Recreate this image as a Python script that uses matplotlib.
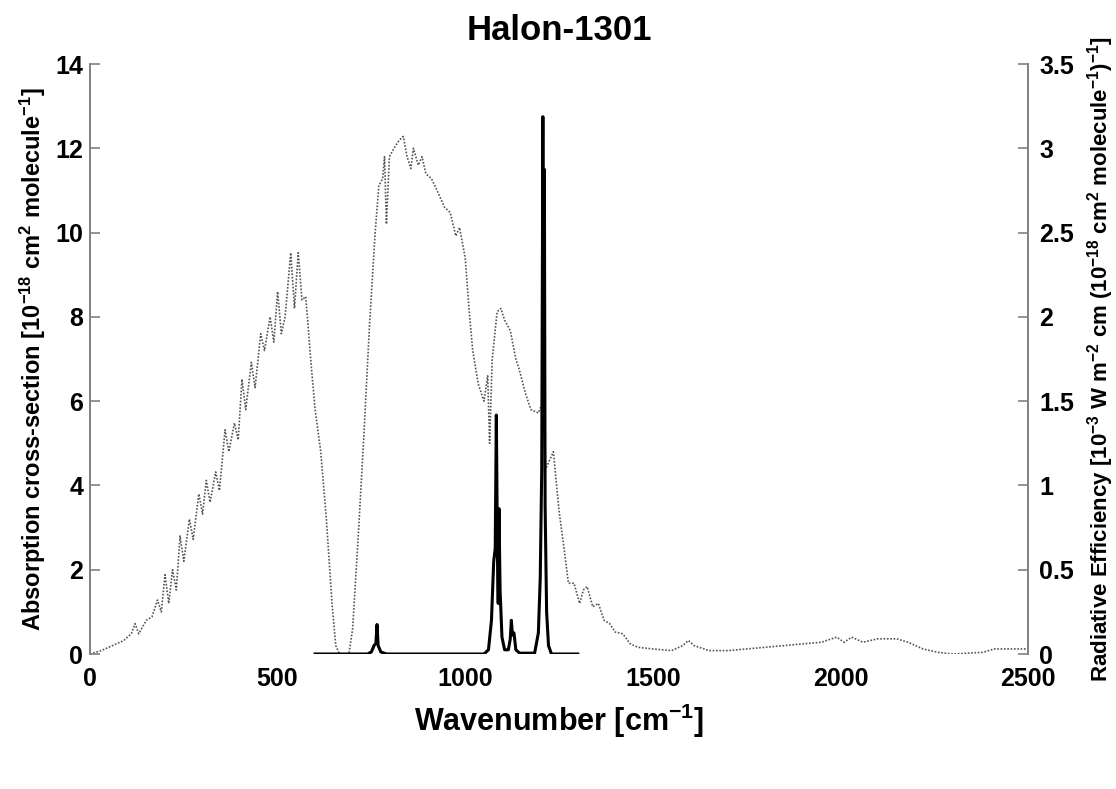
import matplotlib
matplotlib.use("Agg")
import matplotlib.pyplot as plt

plt.rcParams['font.family'] = ['Liberation Sans', 'DejaVu Sans']
plt.rcParams['font.weight'] = 'bold'
plt.rcParams['mathtext.fontset'] = 'custom'
plt.rcParams['mathtext.rm'] = 'Liberation Sans:bold'
plt.rcParams['mathtext.it'] = 'Liberation Sans:bold'
plt.rcParams['mathtext.bf'] = 'Liberation Sans:bold'
plt.rcParams['mathtext.default'] = 'rm'

# Absorption cross-section (left axis, 1e-18 cm^2 molecule^-1)
wn_abs = [600, 740, 750, 757, 762, 765, 768, 775, 790, 1050, 1062, 1070, 1076, 1080,
          1083, 1086, 1088, 1090, 1093, 1098, 1105, 1115, 1120, 1123, 1126, 1130, 1135,
          1145, 1185, 1195, 1200, 1204, 1207, 1209, 1211, 1213, 1217, 1222, 1230, 1300]
abs_xs = [0.0, 0.0, 0.05, 0.2, 0.25, 0.7, 0.2, 0.05, 0.0, 0.0, 0.1, 0.8, 2.2, 2.5,
          5.67, 2.3, 1.2, 3.45, 1.5, 0.4, 0.1, 0.1, 0.35, 0.8, 0.45, 0.5, 0.1,
          0.02, 0.02, 0.5, 1.8, 4.4, 12.75, 6.0, 11.5, 3.5, 1.0, 0.2, 0.0, 0.0]

# Radiative efficiency (right axis)
wn_re = [0, 30, 60, 90, 110, 120, 130, 150, 165, 180, 190, 200, 210, 220, 230, 240, 250,
         265, 275, 290, 300, 310, 320, 335, 345, 360, 370, 385, 395, 405, 415, 430, 440,
         455, 465, 480, 490, 500, 510, 520, 535, 545, 555, 565, 575, 590, 600, 615, 630,
         645, 655, 665, 690, 700, 715, 730, 745, 760, 770, 780, 785, 790, 798, 810, 825,
         835, 845, 855, 862, 875, 885, 895, 910, 925, 945, 960, 975, 985, 1000, 1010,
         1020, 1035, 1050, 1060, 1065, 1072, 1085, 1095, 1105, 1120, 1135, 1145, 1160,
         1175, 1195, 1208, 1215, 1225, 1235, 1250, 1265, 1275, 1290, 1305, 1315, 1325,
         1340, 1355, 1370, 1385, 1400, 1420, 1440, 1460, 1500, 1550, 1580, 1595, 1610,
         1650, 1700, 1750, 1800, 1850, 1900, 1950, 1990, 2010, 2030, 2060, 2100, 2150,
         2180, 2220, 2260, 2300, 2380, 2410, 2500]
re_vals = [0.0, 0.02, 0.05, 0.08, 0.12, 0.18, 0.12, 0.2, 0.22, 0.32, 0.25, 0.47, 0.3,
           0.5, 0.38, 0.7, 0.55, 0.8, 0.68, 0.95, 0.83, 1.03, 0.9, 1.08, 0.97, 1.33, 1.2,
           1.37, 1.27, 1.63, 1.45, 1.73, 1.58, 1.9, 1.8, 2.0, 1.85, 2.15, 1.9, 2.0, 2.38,
           2.05, 2.38, 2.1, 2.12, 1.7, 1.45, 1.2, 0.8, 0.3, 0.05, 0.0, 0.0, 0.15, 0.7,
           1.3, 1.95, 2.5, 2.78, 2.82, 2.95, 2.55, 2.95, 3.0, 3.05, 3.07, 2.95, 2.88, 3.0,
           2.9, 2.95, 2.85, 2.82, 2.75, 2.65, 2.62, 2.48, 2.53, 2.35, 2.05, 1.8, 1.6, 1.5,
           1.65, 1.25, 1.75, 2.03, 2.05, 1.98, 1.92, 1.75, 1.68, 1.55, 1.45, 1.43, 1.5,
           1.1, 1.15, 1.2, 0.85, 0.6, 0.42, 0.42, 0.3, 0.38, 0.4, 0.28, 0.3, 0.2, 0.18,
           0.13, 0.12, 0.06, 0.04, 0.03, 0.02, 0.05, 0.08, 0.05, 0.02, 0.02, 0.03, 0.04,
           0.05, 0.06, 0.07, 0.1, 0.07, 0.1, 0.07, 0.09, 0.09, 0.07, 0.03, 0.01, 0.0,
           0.01, 0.03, 0.03]

x_ticks = [0, 500, 1000, 1500, 2000, 2500]
left_ticks = [0, 2, 4, 6, 8, 10, 12, 14]
right_ticks = [0, 0.5, 1, 1.5, 2, 2.5, 3, 3.5]
right_labels = ['0', '0.5', '1', '1.5', '2', '2.5', '3', '3.5']

fig = plt.figure(figsize=(11.16, 7.89), dpi=100)
ax = fig.add_axes([90/1116, 1-654/789, (1028-90)/1116, (654-64)/789])
ax2 = ax.twinx()

ax.plot(wn_abs, abs_xs, color='black', lw=2.2, zorder=3)
ax2.plot(wn_re, re_vals, color='#555555', lw=1.2, ls=(0, (1, 1)))

ax.set_xlim(0, 2500)
ax.set_ylim(0, 14)
ax2.set_ylim(0, 3.5)
ax.set_xticks(x_ticks)
ax.set_yticks(left_ticks)
ax2.set_yticks(right_ticks)
ax2.set_yticklabels(right_labels)

for a in (ax, ax2):
    for s in ('top', 'bottom'):
        a.spines[s].set_visible(False)
    for s in ('left', 'right'):
        a.spines[s].set_color('#808080')
        a.spines[s].set_linewidth(1.2)
    a.tick_params(direction='in', length=7, width=1.2, color='#808080',
                  labelsize=18)
ax.tick_params(axis='y', pad=5)
ax2.tick_params(axis='y', pad=8)
ax.tick_params(axis='x', length=0, pad=9)
ax.set_zorder(ax2.get_zorder() + 1)
ax.patch.set_visible(False)

ax.set_xlabel('Wavenumber [cm$^{-1}$]', fontsize=22, fontweight='bold', labelpad=8)
ax.set_ylabel('Absorption cross-section [10$^{-18}$ cm$^2$ molecule$^{-1}$]',
              fontsize=17, fontweight='bold', labelpad=5)
ax2.set_ylabel('Radiative Efficiency [10$^{-3}$ W m$^{-2}$ cm (10$^{-18}$ cm$^2$ molecule$^{-1}$)$^{-1}$]',
               fontsize=16, fontweight='bold', labelpad=8)
ax.set_title('Halon-1301', fontsize=25, fontweight='bold', pad=17)

fig.savefig('out.png', dpi=100)
